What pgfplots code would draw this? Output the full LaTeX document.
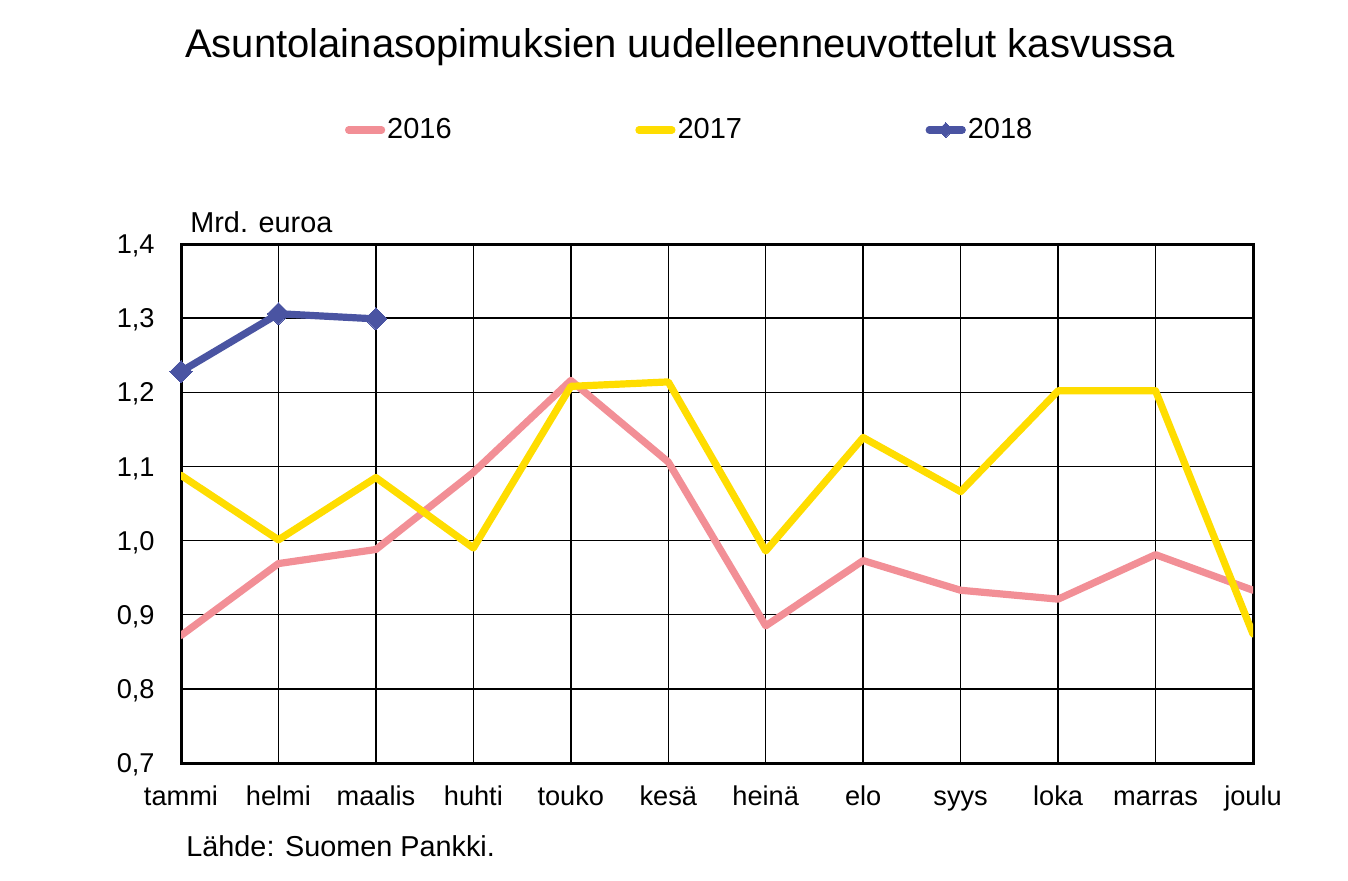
\documentclass[border=0pt]{standalone}
\usepackage{pgfplots}
\pgfplotsset{compat=1.18}
\usepackage{fontspec}
\setmainfont{Liberation Sans}
\definecolor{c16}{RGB}{242,143,150}
\definecolor{c17}{RGB}{255,221,0}
\definecolor{c18}{RGB}{74,84,162}
\begin{document}
\begin{tikzpicture}
\path[use as bounding box] (-90.5pt,-58.5pt) rectangle (583.5pt,381.5pt);
\begin{axis}[
  at={(0pt,0pt)}, anchor=south west,
  scale only axis, width=536pt, height=259.5pt,
  clip mode=individual,
  xmin=0, xmax=11, ymin=0.7, ymax=1.4,
  xtick={0,1,2,3,4,5,6,7,8,9,10,11},
  xticklabels={tammi,helmi,maalis,huhti,touko,kesä,heinä,elo,syys,loka,marras,joulu},
  ytick={0.7,0.8,0.9,1.0,1.1,1.2,1.3,1.4},
  yticklabel={\pgfmathprintnumber[fixed,fixed zerofill,precision=1,use comma]{\tick}},
  /pgf/number format/assume math mode=true,
  major tick length=0pt,
  grid=major, grid style={black, line width=0.75pt},
  axis line style={black, line width=1.5pt},
  ticklabel style={font=\fontsize{13.6}{16}\selectfont, inner sep=0pt},
  xticklabel style={anchor=base, yshift=-21pt},
  yticklabel style={anchor=base east, xshift=-13pt, yshift=-4.8pt},
  legend columns=3,
  legend cell align=left,
  legend image code/.code={\draw[mark repeat=2,mark phase=2,#1] plot coordinates {(1.75pt,0pt) (10pt,0pt) (18.25pt,0pt)};},
  legend image post style={mark size=2.6pt},
  legend style={at={(axis description cs:0.153,1.2197)}, anchor=west, draw=none, fill=none,
    inner sep=0pt, outer sep=0pt, font=\fontsize{14.5}{17}\selectfont,
    nodes={inner sep=0pt, anchor=west},
    /tikz/every odd column/.append style={column sep=1pt},
    /tikz/every even column/.append style={column sep=91.8pt}},
  every axis plot/.append style={line width=3.6pt, line join=round},
]
\addplot[c16, mark=none, line cap=round] coordinates {
 (0,0.872) (1,0.969) (2,0.988) (3,1.092) (4,1.216) (5,1.106) (6,0.885) (7,0.973) (8,0.933) (9,0.921) (10,0.981) (11,0.933)};
\addlegendentry{2016}
\addplot[c17, mark=none, line cap=round] coordinates {
 (0,1.088) (1,1.001) (2,1.085) (3,0.990) (4,1.208) (5,1.214) (6,0.986) (7,1.139) (8,1.066) (9,1.202) (10,1.202) (11,0.874)};
\addlegendentry{2017}
\addplot[c18, line cap=round, mark=square*, mark size=3.9pt, mark options={rotate=45, solid, line width=0pt, fill=c18}] coordinates {
 (0,1.228) (1,1.306) (2,1.299)};
\addlegendentry{2018}
\node[anchor=base, inner sep=0pt, font=\fontsize{20}{24}\selectfont] at (axis description cs:0.4655,1.3584) {Asuntolainasopimuksien uudelleenneuvottelut kasvussa};
\node[anchor=base west, inner sep=0pt, font=\fontsize{14.4}{17}\selectfont] at (axis description cs:0.0084,1.0231) {Mrd. euroa};
\node[anchor=base west, inner sep=0pt, font=\fontsize{14.4}{17}\selectfont] at (axis description cs:0.0047,-0.181) {Lähde: Suomen Pankki.};
\end{axis}
\end{tikzpicture}
\end{document}
